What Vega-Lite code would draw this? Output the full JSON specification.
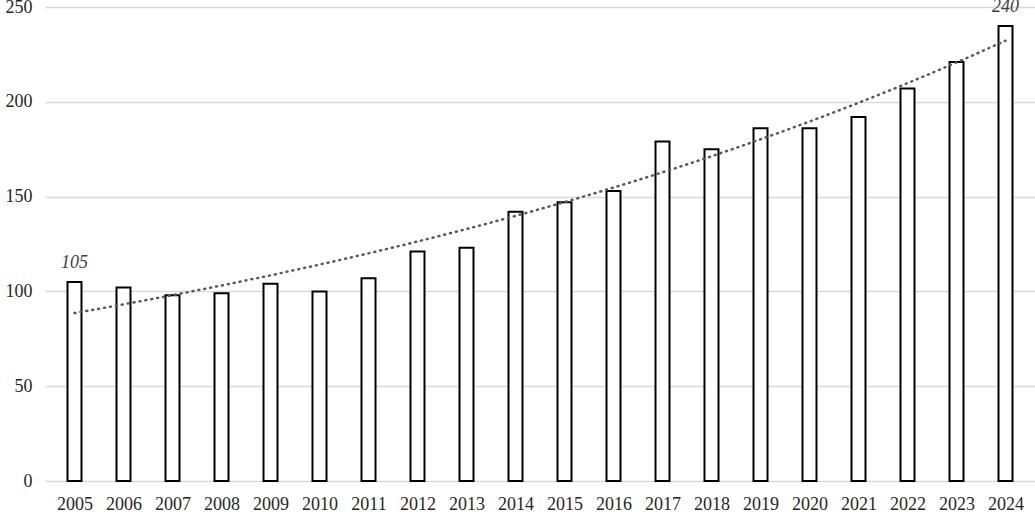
{
  "$schema": "https://vega.github.io/schema/vega-lite/v6.json",
  "width": 990,
  "height": 474,
  "autosize": "none",
  "padding": {"left": 45, "right": 0, "top": 7, "bottom": 31},
  "background": "white",
  "config": {
    "view": {"stroke": null},
    "font": "Liberation Serif",
    "axis": {"labelFont": "Liberation Serif", "labelFontSize": 18, "labelColor": "#262626"}
  },
  "data": {
    "values": [
      {"year": 2005, "value": 105},
      {"year": 2006, "value": 102},
      {"year": 2007, "value": 98},
      {"year": 2008, "value": 99},
      {"year": 2009, "value": 104},
      {"year": 2010, "value": 100},
      {"year": 2011, "value": 107},
      {"year": 2012, "value": 121},
      {"year": 2013, "value": 123},
      {"year": 2014, "value": 142},
      {"year": 2015, "value": 147},
      {"year": 2016, "value": 153},
      {"year": 2017, "value": 179},
      {"year": 2018, "value": 175},
      {"year": 2019, "value": 186},
      {"year": 2020, "value": 186},
      {"year": 2021, "value": 192},
      {"year": 2022, "value": 207},
      {"year": 2023, "value": 221},
      {"year": 2024, "value": 240}
    ]
  },
  "encoding": {
    "x": {
      "field": "year",
      "type": "quantitative",
      "scale": {"domain": [2004.5, 2024.5], "nice": false, "zero": false},
      "axis": {
        "title": null,
        "values": [2005, 2006, 2007, 2008, 2009, 2010, 2011, 2012, 2013, 2014, 2015, 2016, 2017, 2018, 2019, 2020, 2021, 2022, 2023, 2024],
        "format": "d",
        "grid": false,
        "ticks": false,
        "domain": false,
        "labelPadding": 14
      }
    },
    "y": {
      "field": "value",
      "type": "quantitative",
      "scale": {"domain": [0, 250], "nice": false},
      "axis": {
        "title": null,
        "values": [0, 50, 100, 150, 200, 250],
        "ticks": false,
        "domain": false,
        "labelPadding": 13,
        "gridColor": "#d9d9d9",
        "gridWidth": 1.5
      }
    }
  },
  "layer": [
    {
      "mark": {"type": "bar", "width": 14, "fill": "white", "stroke": "black", "strokeWidth": 2}
    },
    {
      "transform": [{"regression": "value", "on": "year", "method": "exp"}],
      "mark": {"type": "line", "color": "#595959", "strokeWidth": 2.5, "strokeDash": [1, 5], "strokeCap": "round"}
    },
    {
      "transform": [{"filter": "datum.year == 2005 || datum.year == 2024"}],
      "mark": {"type": "text", "baseline": "alphabetic", "dy": -14, "fontStyle": "italic", "fontSize": 18, "color": "#404040", "font": "Liberation Serif"},
      "encoding": {"text": {"field": "value", "type": "quantitative"}}
    }
  ]
}
